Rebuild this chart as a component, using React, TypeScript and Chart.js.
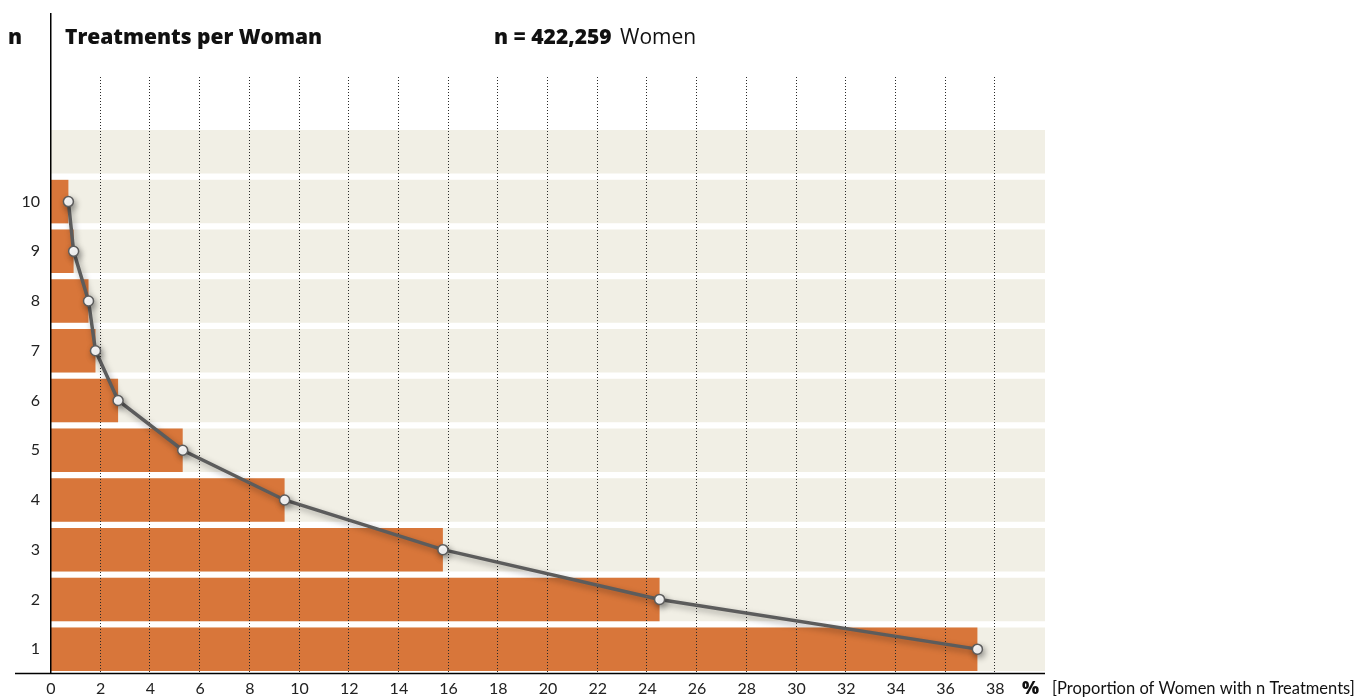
import React, { useEffect, useRef } from 'react';
import { Chart, registerables } from 'chart.js';

Chart.register(...registerables);

// n = 1..10 (plus one empty top row)
const categories = ['1', '2', '3', '4', '5', '6', '7', '8', '9', '10', ''];
// % of women with n treatments
const shares: (number | null)[] = [37.28, 24.49, 15.77, 9.4, 5.3, 2.7, 1.79, 1.51, 0.91, 0.7, null];
const bandValues = [40, 40, 40, 40, 40, 40, 40, 40, 40, 40, 40];
const xTickValues = [0, 2, 4, 6, 8, 10, 12, 14, 16, 18, 20, 22, 24, 26, 28, 30, 32, 34, 36, 38];
const xMin = 0;
const xMax = 40;

const FONT = "Lato, 'Open Sans', 'Noto Sans', sans-serif";
const TITLE_FONT = "'Open Sans', 'Noto Sans', sans-serif";
const ORANGE = '#d8763a';
const BAND = '#f1efe5';
const LINE = '#5c5c5c';

const decorPlugin = {
  id: 'decor',
  beforeDatasetDraw(chart: any, args: any) {
    if (args.index === 0) {
      const ctx = chart.ctx;
      ctx.save();
      ctx.shadowColor = 'rgba(0,0,0,0.35)';
      ctx.shadowBlur = 6;
      ctx.shadowOffsetX = 2;
      ctx.shadowOffsetY = 3;
    }
  },
  afterDatasetDraw(chart: any, args: any) {
    const ctx = chart.ctx;
    if (args.index === 0) {
      ctx.restore();
    }
    if (args.index === 1) {
      // dotted vertical grid lines, drawn over the bars
      const xs = chart.scales.x;
      const { bottom } = chart.chartArea;
      ctx.save();
      ctx.strokeStyle = '#2a2a2a';
      ctx.lineWidth = 1;
      ctx.setLineDash([1, 2]);
      xTickValues.forEach((v) => {
        if (v === 0) return;
        const x = Math.round(xs.getPixelForValue(v)) - 0.5;
        ctx.beginPath();
        ctx.moveTo(x, 77);
        ctx.lineTo(x, bottom);
        ctx.stroke();
      });
      ctx.restore();
    }
  },
  afterDraw(chart: any) {
    const ctx = chart.ctx;
    const { left, right, bottom } = chart.chartArea;
    ctx.save();
    ctx.strokeStyle = '#000';
    ctx.lineWidth = 1.5;
    ctx.beginPath();
    ctx.moveTo(left - 0.25, 13);
    ctx.lineTo(left - 0.25, bottom);
    ctx.stroke();
    ctx.beginPath();
    ctx.moveTo(15, bottom - 0.5);
    ctx.lineTo(right, bottom - 0.5);
    ctx.stroke();

    ctx.fillStyle = '#111';
    ctx.textBaseline = 'alphabetic';
    ctx.textAlign = 'left';
    ctx.font = `800 21px ${TITLE_FONT}`;
    ctx.fillText('n', 8, 44);
    ctx.fillText('Treatments per Woman', 65, 44);
    ctx.fillText('n = 422,259', 494, 44);
    const w = ctx.measureText('n = 422,259').width;
    ctx.font = `400 21px ${TITLE_FONT}`;
    ctx.fillText(' Women', 497 + w, 44);

    ctx.font = `800 18px ${TITLE_FONT}`;
    ctx.fillText('%', 1022, 694);
    ctx.font = `400 16.5px ${FONT}`;
    ctx.fillText('[Proportion of Women with n Treatments]', 1052, 694);
    ctx.restore();
  },
};

export default function App() {
  const ref = useRef<HTMLCanvasElement | null>(null);

  useEffect(() => {
    if (!ref.current) return;
    const chart = new Chart(ref.current, {
      type: 'bar',
      data: {
        labels: categories,
        datasets: [
          {
            type: 'line',
            label: 'Line',
            data: shares,
            indexAxis: 'y',
            borderColor: LINE,
            borderWidth: 3.5,
            pointRadius: 5,
            pointBorderWidth: 1.5,
            pointBackgroundColor: '#ffffff',
            pointBorderColor: LINE,
            order: 0,
          } as any,
          {
            label: 'Share',
            data: shares,
            backgroundColor: ORANGE,
            barPercentage: 0.875,
            categoryPercentage: 1,
            grouped: false,
            order: 1,
          } as any,
          {
            label: 'Band',
            data: bandValues,
            backgroundColor: BAND,
            barPercentage: 0.875,
            categoryPercentage: 1,
            grouped: false,
            order: 2,
          } as any,
        ],
      },
      options: {
        indexAxis: 'y',
        responsive: false,
        animation: false,
        layout: { padding: { top: 127, right: 325, left: 0, bottom: 0 } },
        plugins: {
          legend: { display: false },
          tooltip: { enabled: false },
        },
        scales: {
          x: {
            type: 'linear',
            min: xMin,
            max: xMax,
            afterBuildTicks: (scale: any) => {
              scale.ticks = xTickValues.map((v) => ({ value: v }));
            },
            afterFit: (scale: any) => {
              scale.height = 26;
            },
            grid: { display: false, drawTicks: false },
            border: { display: false },
            ticks: {
              padding: 5,
              color: '#222',
              font: { family: FONT, size: 16 },
              maxRotation: 0,
              autoSkip: false,
            },
          },
          y: {
            type: 'category',
            reverse: true,
            afterFit: (scale: any) => {
              scale.width = 51;
            },
            grid: { display: false, drawTicks: false },
            border: { display: false },
            ticks: {
              padding: 11,
              color: '#222',
              font: { family: FONT, size: 16 },
              autoSkip: false,
            },
          },
        },
      },
      plugins: [decorPlugin],
    } as any);
    return () => chart.destroy();
  }, []);

  return (
    <div style={{ position: 'absolute', left: 0, top: 0, width: 1370, height: 700, background: '#fff' }}>
      <canvas ref={ref} width={1370} height={700} style={{ display: 'block' }} />
    </div>
  );
}
